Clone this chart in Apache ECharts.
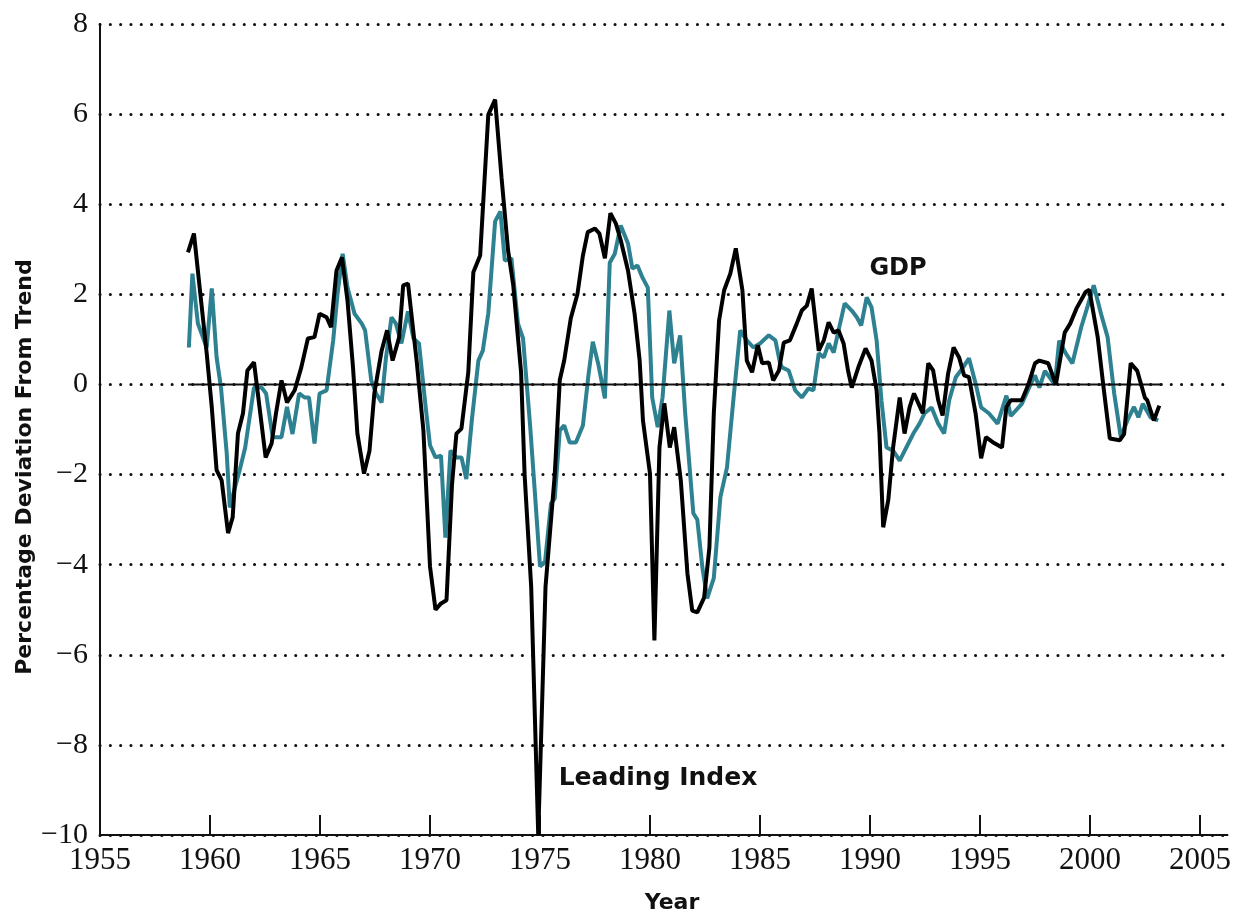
<!DOCTYPE html>
<html>
<head>
<meta charset="utf-8">
<script src="https://cdn.jsdelivr.net/npm/echarts@6/dist/echarts.min.js"></script>
<style>
  html, body { margin: 0; padding: 0; background: #fff; }
  #chart { width: 1234px; height: 917px; }
</style>
</head>
<body>
<div id="chart"></div>
<script>
// values: [year, percentage deviation from trend]
var leadingIndex = [
  [1959.0, 2.93], [1959.27, 3.35], [1959.53, 2.15], [1959.85, 0.69], [1960.08, -0.5], [1960.3, -1.9],
  [1960.53, -2.13], [1960.82, -3.3], [1961.03, -2.95], [1961.27, -1.09], [1961.5, -0.64], [1961.7, 0.31],
  [1962.0, 0.49], [1962.25, -0.5], [1962.53, -1.62], [1962.8, -1.31], [1963.0, -0.64], [1963.25, 0.09],
  [1963.5, -0.4], [1963.85, -0.13], [1964.15, 0.38], [1964.45, 1.02], [1964.75, 1.05], [1964.98, 1.57],
  [1965.3, 1.49], [1965.5, 1.27], [1965.75, 2.53], [1966.0, 2.82], [1966.25, 1.86], [1966.5, 0.38],
  [1966.7, -1.09], [1967.0, -1.98], [1967.25, -1.47], [1967.47, -0.2], [1967.8, 0.75], [1968.05, 1.2],
  [1968.3, 0.53], [1968.6, 1.05], [1968.78, 2.2], [1969.0, 2.24], [1969.4, 0.49], [1969.7, -1.02],
  [1970.0, -4.04], [1970.25, -5.0], [1970.5, -4.86], [1970.75, -4.79], [1971.0, -2.22], [1971.2, -1.09],
  [1971.43, -0.98], [1971.74, 0.27], [1971.97, 2.49], [1972.28, 2.86], [1972.65, 5.99], [1972.96, 6.32],
  [1973.25, 4.6], [1973.55, 2.97], [1973.78, 2.22], [1974.14, 0.27], [1974.3, -2.0], [1974.6, -4.5],
  [1974.92, -10.0], [1975.25, -4.5], [1975.67, -2.0], [1975.9, 0.1], [1976.1, 0.53], [1976.4, 1.47],
  [1976.7, 2.0], [1976.95, 2.86], [1977.17, 3.38], [1977.5, 3.46], [1977.7, 3.35], [1977.95, 2.8],
  [1978.2, 3.8], [1978.45, 3.57], [1978.67, 3.2], [1979.0, 2.53], [1979.3, 1.57], [1979.53, 0.53],
  [1979.68, -0.8], [1980.0, -1.98], [1980.2, -5.68], [1980.43, -1.4], [1980.65, -0.42], [1980.9, -1.4],
  [1981.1, -0.95], [1981.4, -2.13], [1981.7, -4.19], [1981.92, -5.02], [1982.15, -5.06], [1982.46, -4.73],
  [1982.7, -3.62], [1982.9, -0.64], [1983.14, 1.42], [1983.37, 2.09], [1983.65, 2.46], [1983.9, 3.02],
  [1984.2, 2.09], [1984.4, 0.53], [1984.64, 0.27], [1984.9, 0.87], [1985.1, 0.47], [1985.4, 0.49],
  [1985.6, 0.09], [1985.86, 0.31], [1986.08, 0.93], [1986.36, 0.98], [1986.67, 1.35], [1986.9, 1.64],
  [1987.13, 1.75], [1987.35, 2.13], [1987.67, 0.75], [1987.9, 0.98], [1988.12, 1.38], [1988.35, 1.15],
  [1988.57, 1.2], [1988.8, 0.91], [1989.0, 0.31], [1989.17, -0.07], [1989.47, 0.38], [1989.8, 0.8],
  [1990.07, 0.53], [1990.3, -0.13], [1990.43, -1.09], [1990.6, -3.17], [1990.83, -2.57], [1991.05, -1.4],
  [1991.35, -0.29], [1991.57, -1.09], [1991.8, -0.51], [1992.0, -0.2], [1992.2, -0.42], [1992.4, -0.64],
  [1992.65, 0.47], [1992.87, 0.31], [1993.1, -0.35], [1993.3, -0.69], [1993.55, 0.24], [1993.8, 0.82],
  [1994.05, 0.6], [1994.28, 0.2], [1994.5, 0.16], [1994.8, -0.64], [1995.05, -1.64], [1995.27, -1.17],
  [1995.64, -1.3], [1996.0, -1.4], [1996.2, -0.5], [1996.4, -0.35], [1996.9, -0.35], [1997.2, 0.0],
  [1997.5, 0.47], [1997.7, 0.53], [1998.1, 0.47], [1998.45, 0.0], [1998.85, 1.15], [1999.1, 1.35],
  [1999.4, 1.7], [1999.8, 2.05], [1999.97, 2.1], [2000.35, 1.05], [2000.6, 0.0], [2000.9, -1.2],
  [2001.35, -1.24], [2001.55, -1.1], [2001.85, 0.47], [2002.15, 0.3], [2002.5, -0.3], [2002.6, -0.35],
  [2002.9, -0.8], [2003.15, -0.47]
];

var gdp = [
  [1959.04, 0.82], [1959.2, 2.46], [1959.45, 1.35], [1959.85, 0.82], [1960.08, 2.13], [1960.3, 0.6],
  [1960.5, -0.07], [1960.76, -1.53], [1960.9, -2.73], [1961.1, -2.35], [1961.35, -1.9], [1961.6, -1.4],
  [1961.8, -0.73], [1962.0, -0.07], [1962.35, -0.07], [1962.55, -0.2], [1962.85, -1.17], [1963.25, -1.17],
  [1963.5, -0.5], [1963.75, -1.1], [1964.05, -0.2], [1964.3, -0.29], [1964.5, -0.29], [1964.75, -1.31],
  [1964.98, -0.2], [1965.3, -0.13], [1965.6, 0.98], [1965.8, 2.02], [1966.03, 2.9], [1966.25, 2.15],
  [1966.57, 1.57], [1966.9, 1.35], [1967.05, 1.2], [1967.33, 0.09], [1967.55, -0.2], [1967.8, -0.4],
  [1968.0, 0.6], [1968.25, 1.49], [1968.45, 1.35], [1968.7, 0.91], [1969.0, 1.62], [1969.25, 1.02],
  [1969.5, 0.91], [1969.8, -0.49], [1970.0, -1.35], [1970.25, -1.62], [1970.5, -1.58], [1970.7, -3.4],
  [1970.93, -1.47], [1971.2, -1.62], [1971.43, -1.62], [1971.65, -2.1], [1971.9, -0.8], [1972.2, 0.53],
  [1972.4, 0.75], [1972.65, 1.58], [1972.96, 3.62], [1973.2, 3.84], [1973.4, 2.75], [1973.7, 2.8],
  [1974.0, 1.35], [1974.23, 1.02], [1974.55, -0.91], [1974.77, -2.42], [1975.0, -4.04], [1975.23, -3.93],
  [1975.5, -2.64], [1975.67, -2.53], [1975.9, -1.02], [1976.1, -0.91], [1976.35, -1.29], [1976.63, -1.29],
  [1976.95, -0.91], [1977.2, 0.2], [1977.4, 0.95], [1977.65, 0.45], [1977.95, -0.31], [1978.17, 2.7],
  [1978.4, 2.9], [1978.67, 3.53], [1979.0, 3.13], [1979.2, 2.57], [1979.43, 2.64], [1979.66, 2.37],
  [1979.9, 2.15], [1980.1, -0.29], [1980.35, -0.95], [1980.57, -0.29], [1980.88, 1.64], [1981.1, 0.47],
  [1981.37, 1.09], [1981.6, -0.64], [1981.97, -2.86], [1982.15, -3.0], [1982.38, -4.06], [1982.6, -4.75],
  [1982.9, -4.3], [1983.2, -2.5], [1983.5, -1.84], [1983.8, -0.29], [1984.1, 1.2], [1984.4, 0.98],
  [1984.7, 0.82], [1985.0, 0.91], [1985.4, 1.09], [1985.7, 0.98], [1985.9, 0.5], [1986.0, 0.38],
  [1986.3, 0.31], [1986.6, -0.13], [1986.9, -0.29], [1987.2, -0.09], [1987.43, -0.13], [1987.67, 0.69],
  [1987.9, 0.6], [1988.12, 0.91], [1988.35, 0.71], [1988.57, 1.2], [1988.85, 1.8], [1989.17, 1.64],
  [1989.4, 1.49], [1989.6, 1.31], [1989.85, 1.93], [1990.07, 1.71], [1990.3, 0.98], [1990.52, -0.35],
  [1990.75, -1.4], [1991.05, -1.47], [1991.35, -1.69], [1991.65, -1.4], [1991.97, -1.09], [1992.25, -0.87],
  [1992.48, -0.64], [1992.8, -0.51], [1993.1, -0.87], [1993.37, -1.09], [1993.6, -0.35], [1993.9, 0.16],
  [1994.23, 0.38], [1994.5, 0.58], [1994.8, 0.02], [1995.05, -0.51], [1995.4, -0.64], [1995.8, -0.87],
  [1996.2, -0.25], [1996.4, -0.7], [1996.9, -0.43], [1997.3, 0.0], [1997.5, 0.2], [1997.7, -0.07],
  [1997.95, 0.3], [1998.4, 0.0], [1998.6, 0.97], [1998.9, 0.69], [1999.2, 0.47], [1999.6, 1.27],
  [1999.9, 1.75], [2000.17, 2.2], [2000.5, 1.57], [2000.8, 1.05], [2001.1, -0.2], [2001.4, -1.17],
  [2001.7, -0.8], [2002.0, -0.5], [2002.2, -0.73], [2002.4, -0.43], [2002.75, -0.73], [2003.1, -0.8]
];

var zeroLine = [[1959.0, 0], [2003.3, 0]];
var yearTicks = [1955, 1960, 1965, 1970, 1975, 1980, 1985, 1990, 1995, 2000, 2005];

var serif = '"Liberation Serif", "DejaVu Serif", serif';
var sans = '"DejaVu Sans", "Open Sans", sans-serif';

var myChart = echarts.init(document.getElementById('chart'));
var option = {
  animation: false,
  backgroundColor: '#fff',
  grid: { left: 100, right: 4, top: 24, bottom: 82 },
  xAxis: {
    type: 'value',
    min: 1955,
    max: 2006.25,
    interval: 5,
    axisLine: { onZero: false, lineStyle: { color: '#111', width: 2 } },
    axisTick: { inside: true, length: 20, customValues: yearTicks, lineStyle: { color: '#111', width: 2 } },
    axisLabel: {
      customValues: yearTicks,
      color: '#111', fontFamily: serif, fontSize: 31, margin: 10,
      formatter: function (v) { return String(v); }
    },
    splitLine: { show: false }
  },
  yAxis: {
    type: 'value',
    min: -10,
    max: 8,
    interval: 2,
    axisLine: { show: true, lineStyle: { color: '#111', width: 2 } },
    axisTick: { show: false },
    axisLabel: {
      color: '#111', fontFamily: serif, fontSize: 30, margin: 12,
      formatter: function (v) { return String(v).replace('-', '\u2212'); }
    },
    splitLine: {
      show: true,
      lineStyle: { color: '#111', width: 3, type: [0.1, 10.2], cap: 'round' }
    }
  },
  series: [
    {
      name: 'GDP', type: 'line', data: gdp, symbol: 'none', z: 2,
      lineStyle: { color: '#2d8190', width: 4 }
    },
    {
      name: 'zero', type: 'line', data: zeroLine, symbol: 'none', z: 3,
      lineStyle: { color: '#111', width: 2 }
    },
    {
      name: 'Leading Index', type: 'line', data: leadingIndex, symbol: 'none', z: 4,
      lineStyle: { color: '#000', width: 4 }
    }
  ],
  graphic: [
    {
      type: 'text', x: 25, y: 467, rotation: Math.PI / 2,
      style: {
        text: 'Percentage Deviation From Trend', fill: '#111',
        font: 'bold 22px ' + sans, textAlign: 'center', textVerticalAlign: 'middle'
      }
    },
    {
      type: 'text', x: 672, y: 903,
      style: {
        text: 'Year', fill: '#111', font: 'bold 22px ' + sans,
        textAlign: 'center', textVerticalAlign: 'middle'
      }
    },
    {
      type: 'text', x: 898, y: 269,
      style: {
        text: 'GDP', fill: '#111', font: 'bold 24px ' + sans,
        textAlign: 'center', textVerticalAlign: 'middle'
      }
    },
    {
      type: 'text', x: 658, y: 778,
      style: {
        text: 'Leading Index', fill: '#111', font: 'bold 25px ' + sans,
        textAlign: 'center', textVerticalAlign: 'middle'
      }
    }
  ]
};
myChart.setOption(option, true);
</script>
</body>
</html>
